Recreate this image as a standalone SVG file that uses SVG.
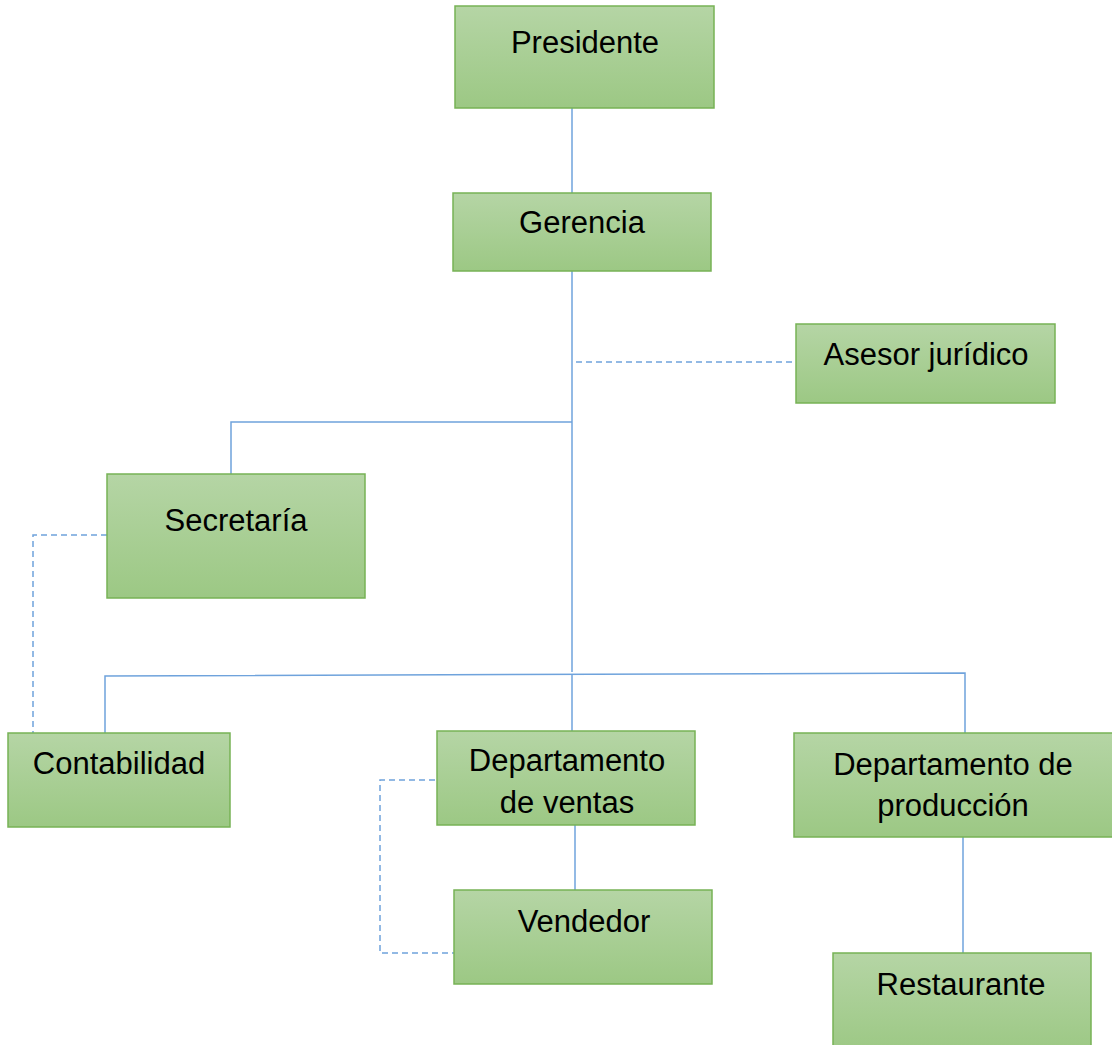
<svg xmlns="http://www.w3.org/2000/svg" width="1112" height="1045" viewBox="0 0 1112 1045">
  <style>
    .box { fill: url(#g); stroke: #77b255; stroke-width: 1.5; }
    .lbl { font-family: "Liberation Sans", Arial, sans-serif; font-size: 31px; fill: #000; text-anchor: middle; }
    .ln { fill: none; stroke: #6fa3dc; stroke-width: 1.5; }
    .dash { fill: none; stroke: #6fa3dc; stroke-width: 1.5; stroke-dasharray: 6 4; }
  </style>
  <defs>
    <linearGradient id="g" x1="0" y1="0" x2="0" y2="1">
      <stop offset="0" stop-color="#b5d5a5"/>
      <stop offset="1" stop-color="#9cc884"/>
    </linearGradient>
  </defs>
  <rect width="1112" height="1045" fill="#fff"/>

  <g id="connectors">
    <path class="ln" d="M572 108 V193"/>
    <path class="ln" d="M572 271 V672"/>
    <path class="dash" d="M576 362 H796"/>
    <path class="ln" d="M572 422 H231 V474"/>
    <path class="ln" d="M105 733 V676 L965 673 V733"/>
    <path class="ln" d="M572 674 V731"/>
    <path class="dash" d="M107 535 H33 V733"/>
    <path class="dash" d="M455 780 H380 V953 H454"/>
    <path class="ln" d="M575 825 V890"/>
    <path class="ln" d="M963 837 V953"/>
  </g>

  <g id="presidente">
    <rect class="box" x="455" y="6" width="259" height="102"/>
    <text class="lbl" x="585" y="53">Presidente</text>
  </g>
  <g id="gerencia">
    <rect class="box" x="453" y="193" width="258" height="78"/>
    <text class="lbl" x="582" y="233">Gerencia</text>
  </g>
  <g id="asesor">
    <rect class="box" x="796" y="324" width="259" height="79"/>
    <text class="lbl" x="926" y="365">Asesor jurídico</text>
  </g>
  <g id="secretaria">
    <rect class="box" x="107" y="474" width="258" height="124"/>
    <text class="lbl" x="236" y="531">Secretaría</text>
  </g>
  <g id="contabilidad">
    <rect class="box" x="8" y="733" width="222" height="94"/>
    <text class="lbl" x="119" y="774">Contabilidad</text>
  </g>
  <g id="ventas">
    <rect class="box" x="437" y="731" width="258" height="94"/>
    <text class="lbl" x="567" y="771">Departamento</text>
    <text class="lbl" x="567" y="813">de ventas</text>
  </g>
  <g id="vendedor">
    <rect class="box" x="454" y="890" width="258" height="94"/>
    <text class="lbl" x="584" y="932">Vendedor</text>
  </g>
  <g id="produccion">
    <rect class="box" x="794" y="733" width="320" height="104"/>
    <text class="lbl" x="953" y="775">Departamento de</text>
    <text class="lbl" x="953" y="816">producción</text>
  </g>
  <g id="restaurante">
    <rect class="box" x="833" y="953" width="258" height="100"/>
    <text class="lbl" x="961" y="995">Restaurante</text>
  </g>
</svg>
